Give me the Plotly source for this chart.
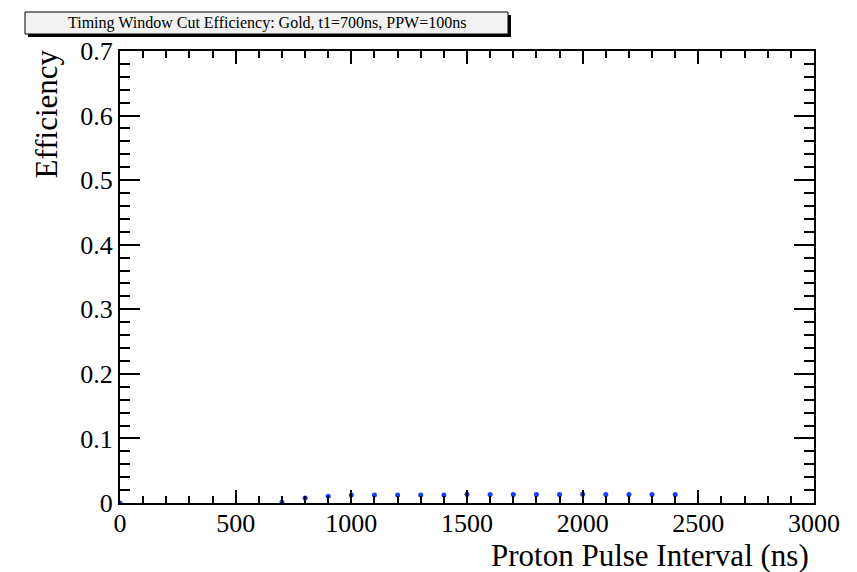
import plotly.graph_objects as go

pulse_interval = [0, 700, 800, 900, 1000, 1100, 1200, 1300, 1400, 1500, 1600, 1700, 1800, 1900, 2000, 2100, 2200, 2300, 2400]
efficiency = [0.0, 0.001, 0.0078, 0.0104, 0.0124, 0.0122, 0.0122, 0.0124, 0.0124, 0.0135, 0.0132, 0.0132, 0.0132, 0.0132, 0.0135, 0.0132, 0.0132, 0.0132, 0.0132]

title_text = "Timing Window Cut Efficiency: Gold, t1=700ns, PPW=100ns"
x_title = "Proton Pulse Interval (ns)"
y_title = "Efficiency"
y_tickvals = [0, 0.1, 0.2, 0.3, 0.4, 0.5, 0.6, 0.7]
y_ticktext = ["0", "0.1", "0.2", "0.3", "0.4", "0.5", "0.6", "0.7"]

W, H = 857, 572
L, R, T, B = 120, 43, 51, 69
pw, ph = W - L - R, H - T - B

def px(x):
    return (x - L) / pw

def py(y):
    return (H - B - y) / ph

font_family = "Liberation Serif"

fig = go.Figure()
fig.add_trace(go.Scatter(
    x=pulse_interval, y=efficiency, mode="markers",
    marker=dict(size=5, color="rgb(25,60,255)"),
    showlegend=False,
))

axis_common = dict(
    showgrid=False, zeroline=False, showline=True, linecolor="black", linewidth=2,
    mirror="ticks", ticks="inside", tickcolor="black", tickwidth=1.5,
    tickfont=dict(family=font_family, size=26, color="black"),
)

fig.update_xaxes(
    range=[0, 3000], dtick=500, tick0=0, ticklen=13, ticklabelstandoff=-4,
    minor=dict(dtick=100, ticks="inside", ticklen=7, tickcolor="black", tickwidth=1.5),
    **axis_common,
)
fig.update_yaxes(
    range=[0, 0.7], ticklen=20, tickvals=y_tickvals, ticktext=y_ticktext,
    minor=dict(dtick=0.02, tick0=0, ticks="inside", ticklen=10, tickcolor="black", tickwidth=1.5),
    **axis_common,
)

shapes = [
    # shadow of title box
    dict(type="rect", xref="paper", yref="paper",
         x0=px(28), x1=px(511), y0=py(37), y1=py(15),
         fillcolor="black", line=dict(width=0), layer="above"),
    dict(type="rect", xref="paper", yref="paper",
         x0=px(25), x1=px(508), y0=py(34), y1=py(12),
         fillcolor="#f2f2f2", line=dict(color="black", width=1), layer="above"),
]

annotations = [
    dict(text=title_text, xref="paper", yref="paper", x=px(267), y=py(23),
         xanchor="center", yanchor="middle", showarrow=False,
         font=dict(family=font_family, size=16, color="black")),
    dict(text=x_title, xref="paper", yref="paper", x=px(811), y=py(555),
         xanchor="right", yanchor="middle", showarrow=False,
         font=dict(family=font_family, size=31, color="black")),
    dict(text=y_title, xref="paper", yref="paper", x=px(46), y=py(48),
         xanchor="center", yanchor="top", showarrow=False, textangle=-90,
         font=dict(family=font_family, size=31, color="black")),
]

fig.update_layout(
    width=W, height=H,
    margin=dict(l=L, r=R, t=T, b=B),
    paper_bgcolor="white", plot_bgcolor="white",
    shapes=shapes, annotations=annotations,
    font=dict(family=font_family),
)

fig.write_html("out.html")
